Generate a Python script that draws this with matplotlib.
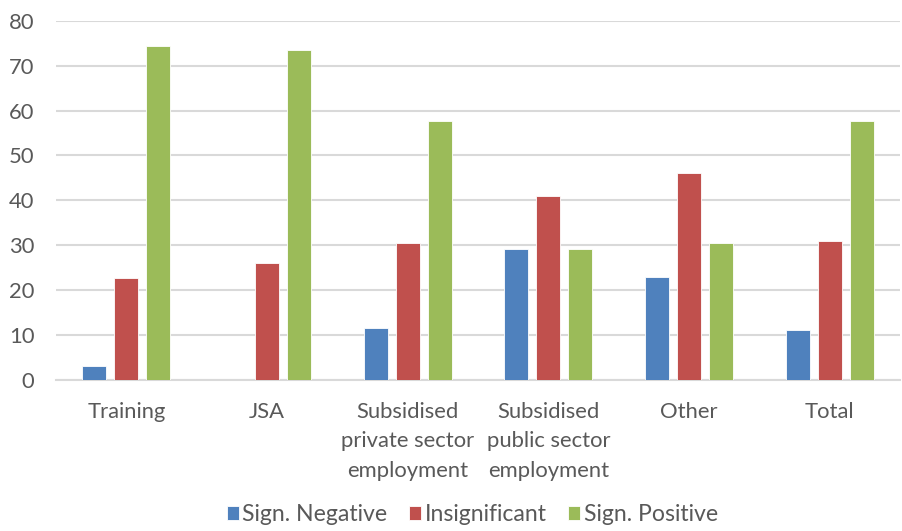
import matplotlib
matplotlib.use("Agg")
import matplotlib.pyplot as plt
import numpy as np

categories = ["Training", "JSA", "Subsidised\nprivate sector\nemployment",
              "Subsidised\npublic sector\nemployment", "Other", "Total"]
sign_negative = [3.1, 0.0, 11.5, 29.2, 22.9, 11.1]
insignificant = [22.6, 26.1, 30.4, 41.0, 46.2, 31.0]
sign_positive = [74.4, 73.5, 57.7, 29.2, 30.4, 57.7]
series_names = ["Sign. Negative", "Insignificant", "Sign. Positive"]
colors = ["#4f81bd", "#c0504d", "#9bbb59"]
yticks = [0, 10, 20, 30, 40, 50, 60, 70, 80]

plt.rcParams["font.family"] = ["Lato", "DejaVu Sans"]
text_color = "#595959"
fs = 15.8

fig = plt.figure(figsize=(9.03, 5.31), dpi=100)
ax = fig.add_axes([56 / 903, 1 - 380 / 531, 844 / 903, (380 - 20.7) / 531])

x = np.arange(len(categories))
step = 0.227
width = 0.17
for i, (vals, name, c) in enumerate(zip([sign_negative, insignificant, sign_positive],
                                         series_names, colors)):
    ax.bar(x + (i - 1) * step, vals, width=width, color=c, label=name,
           edgecolor="white", linewidth=0.6, zorder=3)

ax.set_xlim(-0.5, len(categories) - 0.5)
ax.set_ylim(0, 80)
ax.set_yticks(yticks)
ax.yaxis.grid(True, color="#d9d9d9", linewidth=1.5, zorder=0)
ax.set_axisbelow(True)
for s in ["top", "right", "left"]:
    ax.spines[s].set_visible(False)
ax.spines["bottom"].set_color("#d9d9d9")
ax.spines["bottom"].set_linewidth(1.5)
ax.tick_params(axis="both", length=0, labelsize=fs, colors=text_color)
ax.tick_params(axis="y", pad=15.5)
ax.tick_params(axis="x", pad=15.5)
ax.set_xticks(x)
ax.set_xticklabels(categories, linespacing=1.6)
for lbl in ax.get_yticklabels():
    lbl.set_horizontalalignment("right")

leg = fig.legend(loc="lower center", bbox_to_anchor=(0.523, -0.028), ncol=3,
                 frameon=False, fontsize=16.6, handlelength=0.52, handleheight=0.52,
                 handletextpad=0.15, columnspacing=0.95, labelcolor=text_color)

fig.savefig("out.png", dpi=100)
